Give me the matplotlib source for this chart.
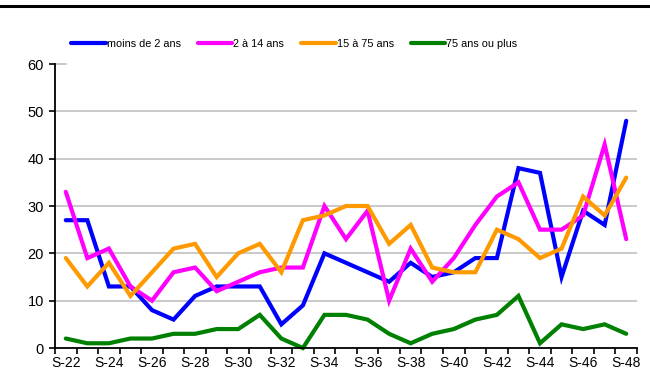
import matplotlib
matplotlib.use("Agg")
import matplotlib.pyplot as plt
from matplotlib.lines import Line2D
import numpy as np

plt.rcParams['font.family'] = ['Liberation Sans', 'DejaVu Sans']

weeks = [f"S-{n}" for n in range(22, 49)]
moins_2 = [27, 27, 13, 13, 8, 6, 11, 13, 13, 13, 5, 9, 20, 18, 16, 14, 18, 15,
           16, 19, 19, 38, 37, 15, 29, 26, 48]
de_2_a_14 = [33, 19, 21, 13, 10, 16, 17, 12, 14, 16, 17, 17, 30, 23, 29, 10, 21, 14,
             19, 26, 32, 35, 25, 25, 28, 43, 23]
de_15_a_75 = [19, 13, 18, 11, 16, 21, 22, 15, 20, 22, 16, 27, 28, 30, 30, 22, 26, 17,
              16, 16, 25, 23, 19, 21, 32, 28, 36]
plus_75 = [2, 1, 1, 2, 2, 3, 3, 4, 4, 7, 2, 0, 7, 7, 6, 3, 1, 3,
           4, 6, 7, 11, 1, 5, 4, 5, 3]

series = [
    ("moins de 2 ans", moins_2, "#0000ff"),
    ("2 à 14 ans", de_2_a_14, "#ff00ff"),
    ("15 à 75 ans", de_15_a_75, "#ff9900"),
    ("75 ans ou plus", plus_75, "#008000"),
]

fig = plt.figure(figsize=(6.5, 3.74), dpi=100)
ax = fig.add_axes([55 / 650, 1 - 348 / 374, (637 - 55) / 650, (348 - 64) / 374])

x = np.arange(len(weeks))
for yv in range(10, 60, 10):
    ax.axhline(yv, color="#c0c0c0", lw=1.2, zorder=0)
ax.plot([-0.5, 0.0], [60, 60], color="#c0c0c0", lw=1.2, zorder=0, clip_on=False)

for label, vals, col in series:
    ax.plot(x, vals, color=col, lw=3, label=label, clip_on=False,
            solid_joinstyle="miter", solid_capstyle="round")

ax.set_xlim(-0.5, len(weeks) - 0.5)
ax.set_ylim(0, 60)
ax.set_yticks(range(0, 61, 10))
ax.set_xticks(x[::2])
ax.set_xticklabels(weeks[::2])
ax.set_xticks(np.arange(-0.5, len(weeks), 1), minor=True)
ax.tick_params(axis="x", which="major", length=0, labelsize=10, pad=6)
ax.tick_params(axis="x", which="minor", length=4, width=1.2, direction="out")
ax.tick_params(axis="y", length=4, width=1.2, labelsize=10.5, pad=4)

for side in ("top", "right"):
    ax.spines[side].set_visible(False)
for side in ("left", "bottom"):
    ax.spines[side].set_linewidth(1.3)

handles, labels = ax.get_legend_handles_labels()
fig.legend(handles, labels, loc="center left",
           bbox_to_anchor=(71 / 650, 1 - 44 / 374), ncol=4, frameon=False,
           fontsize=7.8, handlelength=3.2, handletextpad=0.1, columnspacing=1.55,
           borderpad=0, borderaxespad=0)

# heavy rule across the top of the figure
fig.add_artist(Line2D([0, 1], [1 - 6 / 374, 1 - 6 / 374], color="black", lw=2.2,
                      transform=fig.transFigure))

fig.savefig("out.png", dpi=100)
